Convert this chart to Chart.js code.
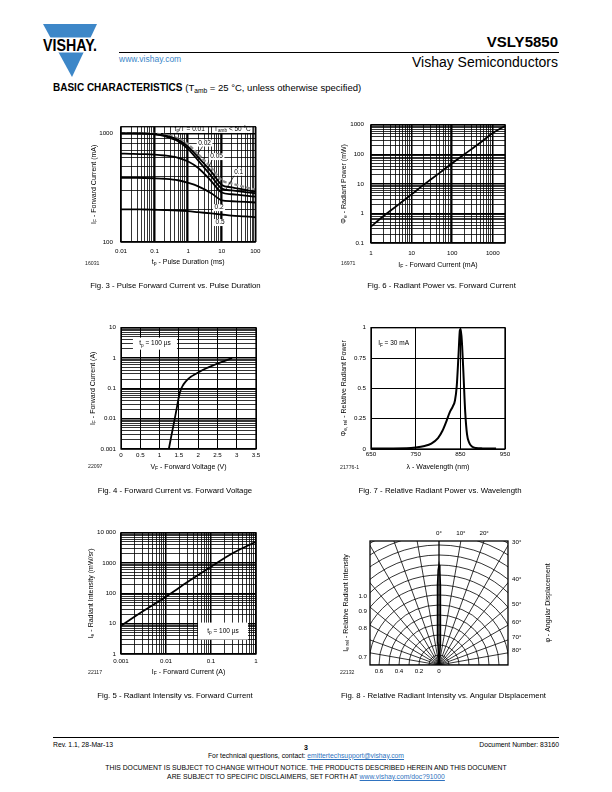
<!DOCTYPE html>
<html lang="en">
<head>
<meta charset="utf-8">
<title>VSLY5850 - Basic Characteristics</title>
<script src="https://cdn.jsdelivr.net/npm/chart.js@4.4.1/dist/chart.umd.min.js"></script>
<style>
  html, body { margin: 0; padding: 0; background: #fff; }
  body { position: relative; width: 612px; height: 792px; overflow: hidden;
         font-family: 'Liberation Sans', Arial, Helvetica, sans-serif; color: #000; }
  .t { position: absolute; white-space: nowrap; line-height: 1; }
  .c { transform: translateX(-50%); }
  .cap { font-size: 7.8px; }
  .id { font-size: 5.2px; color: #222; }
  .foot { font-size: 6.8px; }
  .lnk { color: #2f73c0; text-decoration: underline; }
  sub { font-size: 70%; vertical-align: -0.3em; line-height: 0; }
  canvas { position: absolute; }
  .rule { position: absolute; height: 1px; background: #000; }
</style>
</head>
<body>

<svg width="60" height="56" viewBox="0 0 60 56" style="position:absolute;left:40px;top:23px">
  <polygon points="3,1 57,1 32,54" fill="#3d87c8"/>
  <rect x="0" y="14.5" width="60" height="15" fill="#fff"/>
  <text x="3" y="28" font-family="Liberation Sans, Arial, sans-serif" font-weight="bold" font-size="16"
        textLength="54" lengthAdjust="spacingAndGlyphs">VISHAY.</text>
</svg>
<div class="t" style="right:54px;top:34px;font-size:15px;font-weight:bold">VSLY5850</div>
<div class="rule" style="left:119px;top:52px;width:440px"></div>
<div class="t" style="left:119px;top:55px;font-size:8.5px;color:#3d87c8">www.vishay.com</div>
<div class="t" style="right:54px;top:55px;font-size:14px">Vishay Semiconductors</div>
<div class="t" style="left:53px;top:83px;font-size:10px"><b>BASIC CHARACTERISTICS</b> <span style="font-size:9.5px">(T<sub>amb</sub> = 25 °C, unless otherwise specified)</span></div>

<canvas id="fig3"></canvas>
<canvas id="fig6"></canvas>
<canvas id="fig4"></canvas>
<canvas id="fig7"></canvas>
<canvas id="fig5"></canvas>
<canvas id="fig8"></canvas>

<div class="t id" style="left:85px;top:260.5px">16031</div>
<div class="t id" style="left:341px;top:260.5px">16971</div>
<div class="t id" style="left:88px;top:464px">22097</div>
<div class="t id" style="left:340px;top:464.5px">21776-1</div>
<div class="t id" style="left:88px;top:669.5px">22117</div>
<div class="t id" style="left:340px;top:669.5px">22132</div>

<div class="t cap c" style="left:175.5px;top:282px">Fig. 3 - Pulse Forward Current vs. Pulse Duration</div>
<div class="t cap c" style="left:441.5px;top:282px">Fig. 6 - Radiant Power vs. Forward Current</div>
<div class="t cap c" style="left:175px;top:487px">Fig. 4 - Forward Current vs. Forward Voltage</div>
<div class="t cap c" style="left:440px;top:487px">Fig. 7 - Relative Radiant Power vs. Wavelength</div>
<div class="t cap c" style="left:175px;top:692px">Fig. 5 - Radiant Intensity vs. Forward Current</div>
<div class="t cap c" style="left:443.5px;top:692px">Fig. 8 - Relative Radiant Intensity vs. Angular Displacement</div>

<div class="rule" style="left:53px;top:737px;width:506px"></div>
<div class="t foot" style="left:53px;top:741.5px">Rev. 1.1, 28-Mar-13</div>
<div class="t c" style="left:306px;top:743.5px;font-size:7px;font-weight:bold">3</div>
<div class="t foot" style="right:53px;top:741.5px">Document Number: 83160</div>
<div class="t foot c" style="left:306px;top:752.5px">For technical questions, contact: <span class="lnk">emittertechsupport@vishay.com</span></div>
<div class="t foot c" style="left:306px;top:764.5px">THIS DOCUMENT IS SUBJECT TO CHANGE WITHOUT NOTICE. THE PRODUCTS DESCRIBED HEREIN AND THIS DOCUMENT</div>
<div class="t foot c" style="left:306px;top:773.5px">ARE SUBJECT TO SPECIFIC DISCLAIMERS, SET FORTH AT <span class="lnk">www.vishay.com/doc?91000</span></div>

<script>
// ---- Fig. 3: pulse forward current vs pulse duration (one curve per duty cycle tp/T) ----
const pulseDurationMs = [0.01, 0.02, 0.05, 0.1, 0.2, 0.5, 1, 2, 5, 10, 20, 50, 100];
const ifPulseD001 = [1000, 1000, 998, 990, 970, 900, 790, 640, 480, 370, 345, 320, 303];
const ifPulseD002 = [1000, 1000, 996, 985, 955, 870, 750, 600, 440, 335, 318, 302, 290];
const ifPulseD005 = [1000, 1000, 993, 978, 940, 845, 715, 560, 400, 310, 298, 288, 280];
const ifPulseD01 = [650, 648, 644, 638, 625, 595, 550, 480, 360, 285, 275, 267, 261];
const ifPulseD02 = [390, 389, 388, 386, 382, 370, 350, 325, 280, 242, 237, 234, 231];
const ifPulseD05 = [200, 200, 199, 198, 197, 195, 192, 188, 183, 179, 175, 172, 169];
const fig3XTicks = [0.01, 0.1, 1, 10, 100];
const fig3YTicks = [100, 1000];

// ---- Fig. 6: radiant power vs forward current ----
const fig6CurrentMA = [1, 2, 5, 10, 20, 50, 100, 200, 500, 1000, 2000];
const fig6PowerMW = [0.36, 0.8, 2.1, 4.4, 9.4, 24, 50, 100, 250, 520, 900];
const fig6XTicks = [1, 10, 100, 1000];
const fig6YTicks = [0.1, 1, 10, 100, 1000];

// ---- Fig. 4: forward current vs forward voltage ----
const fig4VoltageV = [1.24, 1.30, 1.36, 1.42, 1.47, 1.51, 1.55, 1.60, 1.66, 1.73, 1.82, 1.92, 2.05, 2.2, 2.4, 2.62, 2.88];
const fig4CurrentA = [0.001, 0.0025, 0.006, 0.015, 0.033, 0.06, 0.09, 0.122, 0.157, 0.197, 0.245, 0.29, 0.36, 0.45, 0.58, 0.75, 1.0];
const fig4XTicks = [0, 0.5, 1, 1.5, 2, 2.5, 3, 3.5];
const fig4YTicks = [0.001, 0.01, 0.1, 1, 10];

// ---- Fig. 7: relative radiant power vs wavelength ----
const fig7WavelengthNm = [650, 700, 730, 750, 770, 785, 800, 810, 819, 826, 833, 838, 842, 846, 849, 851, 854, 857, 861, 865, 870, 876, 885, 900, 930];
const fig7RelPower = [0.005, 0.005, 0.006, 0.012, 0.025, 0.045, 0.09, 0.15, 0.23, 0.30, 0.35, 0.40, 0.52, 0.78, 0.98, 0.99, 0.85, 0.62, 0.3, 0.12, 0.05, 0.02, 0.008, 0.005, 0.004];
const fig7XTicks = [650, 750, 850, 950];
const fig7YTicks = [0, 0.25, 0.5, 0.75, 1];

// ---- Fig. 5: radiant intensity vs forward current ----
const fig5CurrentA = [0.001, 0.003, 0.01, 0.03, 0.1, 0.3, 1];
const fig5IntensityMWsr = [8.5, 25, 78, 235, 750, 2100, 5000];
const fig5XTicks = [0.001, 0.01, 0.1, 1];
const fig5YTicks = [1, 10, 100, 1000, 10000];
const fig5YTickLabels = ['1', '10', '100', '1000', '10 000'];

// ---- Fig. 8: relative radiant intensity vs angular displacement ----
const polarAngleDeg = [-10, -7, -5, -4, -3, -2.5, -2, -1.5, -1, -0.5, 0, 0.5, 1, 1.5, 2, 2.5, 3, 4, 5, 7, 10];
const polarRelIntensity = [0.01, 0.03, 0.07, 0.12, 0.22, 0.32, 0.45, 0.62, 0.8, 0.95, 1, 0.95, 0.8, 0.62, 0.45, 0.32, 0.22, 0.12, 0.07, 0.03, 0.01];
const polarBottomTicks = [-0.6, -0.4, -0.2, 0];
const polarRingLabels = [0.7, 0.8, 0.9, 1.0];
const polarTopAngles = [0, 10, 20];
const polarSideAngles = [30, 40, 50, 60, 70, 80];
const polarRings = [0.1, 0.2, 0.3, 0.4, 0.5, 0.6, 0.7, 0.8, 0.9, 1.0, 1.1, 1.2, 1.3, 1.4, 1.5];
const polarSpokes = [-90, -80, -70, -60, -50, -40, -30, -20, -10, 0, 10, 20, 30, 40, 50, 60, 70, 80, 90];

const FONT = "'Liberation Sans', Arial, Helvetica, sans-serif";
Chart.defaults.font.family = FONT;
Chart.defaults.font.size = 6.2;
Chart.defaults.color = '#000';
Chart.defaults.animation = false;
Chart.defaults.events = [];
Chart.defaults.plugins.legend.display = false;
Chart.defaults.plugins.tooltip.enabled = false;

const isDecade = v => Math.abs(Math.log10(v) - Math.round(Math.log10(v))) < 1e-9;

// 1..9 times each power of ten between min and max (log grid lines)
function logGrid(min, max) {
  const out = [];
  for (let e = Math.floor(Math.log10(min) + 1e-9); Math.pow(10, e) <= max * 1.0001; e++) {
    for (let m = 1; m <= 9; m++) {
      const v = +(m * Math.pow(10, e)).toPrecision(6);
      if (v >= min * 0.9999 && v <= max * 1.0001) out.push(v);
    }
  }
  return out;
}

function axis(o) {
  const vertical = o.pos === 'left' || o.pos === 'right';
  const at = o.at, text = o.text || o.at.map(String);
  return {
    type: o.type || 'linear', position: o.pos, min: o.min, max: o.max,
    afterBuildTicks: s => {
      s.ticks = (o.grid || at).map(v => ({ value: v, major: o.type === 'logarithmic' && isDecade(v) }));
    },
    afterFit: s => { if (vertical) s.width = o.size; else s.height = o.size; },
    ticks: {
      autoSkip: false, maxRotation: 0, minRotation: 0, padding: o.pad, labelOffset: o.offset || 0,
      callback: v => {
        const k = at.findIndex(a => Math.abs(a - v) <= 1e-9 * Math.max(1, Math.abs(a)));
        return k < 0 ? '' : text[k];
      }
    },
    grid: {
      display: !o.noGrid, color: '#000', drawTicks: false,
      lineWidth: c => (c.tick && c.tick.major ? 1.5 : (o.lw || 0.8))
    },
    border: { display: false }
  };
}

function curve(xs, ys, extra) {
  return Object.assign({
    data: xs.map((x, i) => ({ x, y: ys[i] })),
    showLine: true, borderColor: '#000', borderWidth: 1.8, pointRadius: 0,
    cubicInterpolationMode: 'monotone', fill: false
  }, extra);
}

// text with subscripts: parts are strings, or [string] for a subscript
function richWidth(ctx, parts, size) {
  let w = 0;
  parts.forEach(p => {
    const sub = Array.isArray(p);
    ctx.font = (sub ? size * 0.72 : size) + 'px ' + FONT;
    w += ctx.measureText(sub ? p[0] : p).width;
  });
  return w;
}
function richDraw(ctx, parts, x, y, size, align) {
  const w = richWidth(ctx, parts, size);
  let cx = align === 'center' ? x - w / 2 : align === 'right' ? x - w : x;
  parts.forEach(p => {
    const sub = Array.isArray(p), s = sub ? p[0] : p;
    ctx.font = (sub ? size * 0.72 : size) + 'px ' + FONT;
    ctx.fillText(s, cx, sub ? y + size * 0.3 : y);
    cx += ctx.measureText(s).width;
  });
}

const frame = {
  id: 'frame',
  afterDatasetsDraw(chart) {
    const { ctx, chartArea: a } = chart;
    ctx.save();
    ctx.strokeStyle = '#000';
    ctx.lineWidth = 1.3;
    ctx.strokeRect(a.left, a.top, a.right - a.left, a.bottom - a.top);
    ctx.restore();
  }
};

function notes(cfg) {
  return {
    id: 'notes',
    afterDatasetsDraw(chart) {
      const { ctx, scales: { x, y } } = chart;
      ctx.save();
      ctx.strokeStyle = '#000';
      ctx.lineWidth = 0.7;
      (cfg.leaders || []).forEach(([p, q]) => {
        ctx.beginPath();
        ctx.moveTo(x.getPixelForValue(p[0]), y.getPixelForValue(p[1]));
        ctx.lineTo(x.getPixelForValue(q[0]), y.getPixelForValue(q[1]));
        ctx.stroke();
      });
      ctx.textBaseline = 'middle';
      ctx.textAlign = 'left';
      (cfg.items || []).forEach(n => {
        const px = x.getPixelForValue(n.x), py = y.getPixelForValue(n.y);
        const size = n.size || 6.5, align = n.align || 'center';
        if (n.box) {
          const bw = n.box[0] || richWidth(ctx, n.text, size) + 3, bh = n.box[1];
          ctx.fillStyle = '#fff';
          ctx.fillRect(align === 'left' ? px - 1.5 : px - bw / 2, py - bh / 2, bw, bh);
        }
        ctx.fillStyle = '#000';
        richDraw(ctx, n.text, px, py, size, align);
      });
      ctx.restore();
    }
  };
}

function titles(cfg) {
  return {
    id: 'titles',
    afterDraw(chart) {
      const { ctx, chartArea: a } = chart;
      const midX = (a.left + a.right) / 2, midY = (a.top + a.bottom) / 2;
      ctx.save();
      ctx.fillStyle = '#000';
      ctx.textBaseline = 'middle';
      ctx.textAlign = 'left';
      if (cfg.x) richDraw(ctx, cfg.x, midX, a.bottom + cfg.xGap, 7, 'center');
      [['y', a.left - (cfg.yGap || 0)], ['y2', a.right + (cfg.y2Gap || 0)]].forEach(([k, px]) => {
        if (!cfg[k]) return;
        ctx.save();
        ctx.translate(px, midY);
        ctx.rotate(-Math.PI / 2);
        richDraw(ctx, cfg[k], 0, 0, 7, 'center');
        ctx.restore();
      });
      ctx.restore();
    }
  };
}

function polarGrid(cfg) {
  return {
    id: 'polarGrid',
    beforeDatasetsDraw(chart) {
      const { ctx, chartArea: a, scales: { x, y } } = chart;
      const cx = x.getPixelForValue(0), cy = y.getPixelForValue(0);
      const u = x.getPixelForValue(1) - cx;
      ctx.save();
      ctx.beginPath();
      ctx.rect(a.left, a.top, a.right - a.left, a.bottom - a.top);
      ctx.clip();
      ctx.strokeStyle = '#000';
      ctx.lineWidth = 0.8;
      cfg.rings.forEach(r => {
        ctx.beginPath();
        ctx.arc(cx, cy, r * u, Math.PI, 2 * Math.PI);
        ctx.stroke();
      });
      cfg.spokes.forEach(d => {
        const t = d * Math.PI / 180;
        ctx.lineWidth = d === 0 ? 1.3 : 0.8;
        ctx.beginPath();
        ctx.moveTo(cx, cy);
        ctx.lineTo(cx + Math.sin(t) * 2 * u, cy - Math.cos(t) * 2 * u);
        ctx.stroke();
      });
      ctx.restore();
    }
  };
}

// plot = [left, top, right, bottom] of the plot area on the page
function makeChart(id, plot, pad, cfg) {
  const c = document.getElementById(id);
  c.width = plot[2] - plot[0] + pad.l + pad.r;
  c.height = plot[3] - plot[1] + pad.t + pad.b;
  c.style.left = (plot[0] - pad.l) + 'px';
  c.style.top = (plot[1] - pad.t) + 'px';
  cfg.options.responsive = false;
  cfg.options.maintainAspectRatio = false;
  cfg.options.layout = { padding: pad.layout || { top: pad.t, right: pad.r, left: 0, bottom: 0 } };
  return new Chart(c, cfg);
}

// Fig. 3
makeChart('fig3', [121, 123, 256, 242], { l: 40, t: 8, r: 10, b: 26 }, {
  type: 'scatter',
  data: {
    datasets: [
      curve(pulseDurationMs, ifPulseD05),
      curve(pulseDurationMs, ifPulseD02),
      curve(pulseDurationMs, ifPulseD01),
      curve(pulseDurationMs, ifPulseD005),
      curve(pulseDurationMs, ifPulseD002),
      curve(pulseDurationMs, ifPulseD001, { borderColor: '#8c8c8c', borderDash: [4, 2], borderWidth: 2.2 })
    ]
  },
  options: {
    scales: {
      x: axis({ type: 'logarithmic', pos: 'bottom', min: 0.01, max: 100, grid: logGrid(0.01, 100), at: fig3XTicks, size: 26, pad: 5.5 }),
      y: axis({ type: 'logarithmic', pos: 'left', min: 100, max: 1150, grid: logGrid(100, 1000), at: fig3YTicks, size: 40, pad: 8 })
    }
  },
  plugins: [
    notes({
      leaders: [[[2.74, 765], [1.75, 615]], [[5.4, 582], [3.6, 455]], [[24, 413], [12.9, 300]]],
      items: [
        { x: 1.11, y: 1097, text: ['t', ['p'], '/T = 0.01'], box: [0, 8] },
        { x: 20.8, y: 1097, text: ['T', ['amb'], ' < 50 °C'], box: [0, 8] },
        { x: 3.08, y: 814, text: ['0.02'], box: [0, 7] },
        { x: 7.0, y: 611, text: ['0.05'], box: [0, 7] },
        { x: 32, y: 439, text: ['0.1'], box: [0, 7] },
        { x: 8.3, y: 207, text: ['0.2'], box: [0, 7] },
        { x: 8.9, y: 151, text: ['0.5'], box: [0, 7] }
      ]
    }),
    frame,
    titles({ x: ['t', ['p'], ' - Pulse Duration (ms)'], xGap: 20, y: ['I', ['F'], ' - Forward Current (mA)'], yGap: 27 })
  ]
});

// Fig. 6
makeChart('fig6', [371, 122, 505, 243], { l: 40, t: 8, r: 12, b: 28 }, {
  type: 'scatter',
  data: { datasets: [curve(fig6CurrentMA, fig6PowerMW)] },
  options: {
    scales: {
      x: axis({ type: 'logarithmic', pos: 'bottom', min: 1, max: 2000, grid: logGrid(1, 2000), at: fig6XTicks, size: 28, pad: 6.5 }),
      y: axis({ type: 'logarithmic', pos: 'left', min: 0.1, max: 1000, grid: logGrid(0.1, 1000), at: fig6YTicks, size: 40, pad: 7 })
    }
  },
  plugins: [frame, titles({ x: ['I', ['F'], ' - Forward Current (mA)'], xGap: 22, y: ['Φ', ['e'], ' - Radiant Power (mW)'], yGap: 27 })]
});

// Fig. 4
makeChart('fig4', [121, 327, 256, 449], { l: 42, t: 8, r: 10, b: 26 }, {
  type: 'scatter',
  data: { datasets: [curve(fig4VoltageV, fig4CurrentA)] },
  options: {
    scales: {
      x: axis({ pos: 'bottom', min: 0, max: 3.5, at: fig4XTicks, size: 26, pad: 2.5, lw: 1 }),
      y: axis({ type: 'logarithmic', pos: 'left', min: 0.001, max: 10, grid: logGrid(0.001, 10), at: fig4YTicks, size: 42, pad: 5 })
    }
  },
  plugins: [
    notes({ items: [{ x: 0.88, y: 2.98, text: ['t', ['p'], ' = 100 µs'], box: [44, 12] }] }),
    frame,
    titles({ x: ['V', ['F'], ' - Forward Voltage (V)'], xGap: 18, y: ['I', ['F'], ' - Forward Current (A)'], yGap: 28 })
  ]
});

// Fig. 7
makeChart('fig7', [371, 327, 505, 449], { l: 40, t: 8, r: 10, b: 26 }, {
  type: 'scatter',
  data: { datasets: [curve(fig7WavelengthNm, fig7RelPower, { borderWidth: 2 })] },
  options: {
    scales: {
      x: axis({ pos: 'bottom', min: 650, max: 950, at: fig7XTicks, size: 26, pad: 2, lw: 1 }),
      y: axis({ pos: 'left', min: 0, max: 1, at: fig7YTicks, size: 40, pad: 5, lw: 1 })
    }
  },
  plugins: [
    notes({ items: [{ x: 666, y: 0.87, text: ['I', ['F'], ' = 30 mA'], align: 'left' }] }),
    frame,
    titles({ x: ['λ - Wavelength (nm)'], xGap: 18, y: ['Φ', ['e, rel'], ' - Relative Radiant Power'], yGap: 27 })
  ]
});

// Fig. 5
makeChart('fig5', [121, 532, 256, 654], { l: 44, t: 8, r: 10, b: 26 }, {
  type: 'scatter',
  data: { datasets: [curve(fig5CurrentA, fig5IntensityMWsr)] },
  options: {
    scales: {
      x: axis({ type: 'logarithmic', pos: 'bottom', min: 0.001, max: 1, grid: logGrid(0.001, 1), at: fig5XTicks, size: 26, pad: 3.5 }),
      y: axis({ type: 'logarithmic', pos: 'left', min: 1, max: 10000, grid: logGrid(1, 10000), at: fig5YTicks, text: fig5YTickLabels, size: 44, pad: 5 })
    }
  },
  plugins: [
    notes({ items: [{ x: 0.185, y: 5.7, text: ['t', ['p'], ' = 100 µs'], box: [50, 17] }] }),
    frame,
    titles({ x: ['I', ['F'], ' - Forward Current (A)'], xGap: 18, y: ['I', ['e'], ' - Radiant Intensity (mW/sr)'], yGap: 30 })
  ]
});

// Fig. 8 - polar diagram on a square-scaled x/y plane, origin at the bottom centre
const polarHalfWidth = 0.69, polarHeight = 1.24;
const rad = d => d * Math.PI / 180;
makeChart('fig8', [370, 541, 508, 665], { l: 32, t: 14, r: 48, b: 12, layout: { top: 0, right: 0, left: 0, bottom: 0 } }, {
  type: 'scatter',
  data: {
    datasets: [{
      data: polarAngleDeg.map((a, i) => ({ x: polarRelIntensity[i] * Math.sin(rad(a)), y: polarRelIntensity[i] * Math.cos(rad(a)) })),
      showLine: true, borderColor: '#000', borderWidth: 1.5, pointRadius: 0, tension: 0, fill: false
    }]
  },
  options: {
    scales: {
      x: axis({ pos: 'bottom', min: -polarHalfWidth, max: polarHalfWidth, at: polarBottomTicks,
                text: polarBottomTicks.map(v => String(Math.abs(v))), size: 12, pad: 3, noGrid: true }),
      x2: axis({ pos: 'top', min: -polarHalfWidth, max: polarHalfWidth, at: polarTopAngles.map(a => polarHeight * Math.tan(rad(a))),
                 text: polarTopAngles.map(a => a + '°'), size: 14, pad: 4, noGrid: true }),
      y: axis({ pos: 'left', min: 0, max: polarHeight,
                at: polarRingLabels.map(r => Math.sqrt(Math.max(r * r - polarHalfWidth * polarHalfWidth, 0))),
                text: polarRingLabels.map(r => r.toFixed(1)), size: 32, pad: 3, offset: 4, noGrid: true }),
      y2: axis({ pos: 'right', min: 0, max: polarHeight, at: polarSideAngles.map(a => polarHalfWidth / Math.tan(rad(a))),
                 text: polarSideAngles.map(a => a + '°'), size: 48, pad: 4, offset: -3, noGrid: true })
    }
  },
  plugins: [
    polarGrid({ rings: polarRings, spokes: polarSpokes }),
    frame,
    titles({ y: ['I', ['e rel'], ' - Relative Radiant Intensity'], yGap: 24, y2: ['φ - Angular Displacement'], y2Gap: 40 })
  ]
});
</script>
</body>
</html>
